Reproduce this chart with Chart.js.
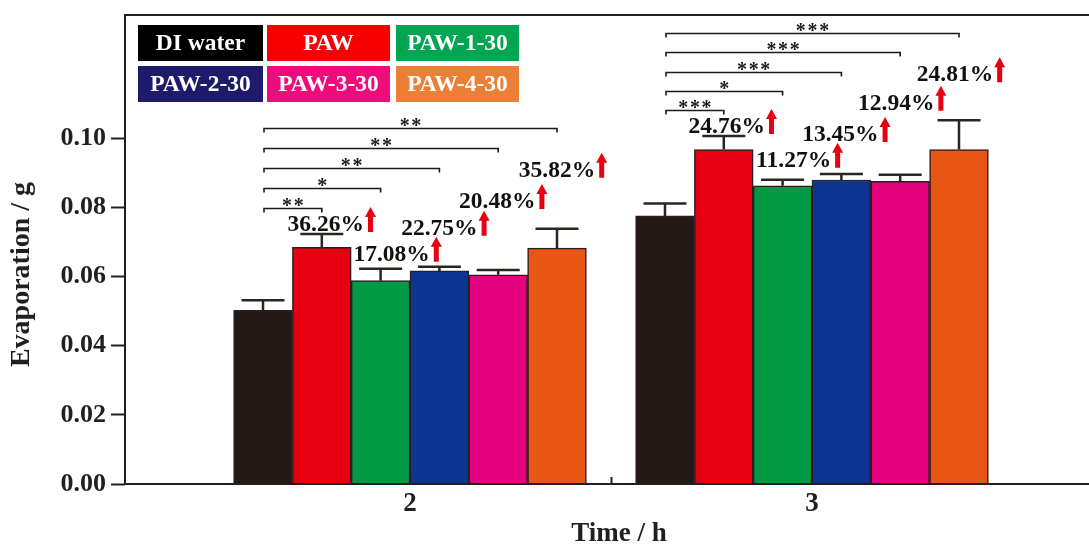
<!DOCTYPE html>
<html>
<head>
<meta charset="utf-8">
<script src="https://cdn.jsdelivr.net/npm/chart.js@4.4.1/dist/chart.umd.min.js"></script>
<style>
  html, body { margin: 0; padding: 0; background: #ffffff; overflow: hidden; }
  canvas { display: block; }
</style>
</head>
<body>
<canvas id="evap" width="1113" height="545"></canvas>
<script>
// Evaporated mass (g) after 2 h and 3 h for each water sample
const timeHours = [2, 3];
const seriesNames = ['DI water', 'PAW', 'PAW-1-30', 'PAW-2-30', 'PAW-3-30', 'PAW-4-30'];
const diWater = [0.0502, 0.0775];
const paw     = [0.0684, 0.0967];
const paw1_30 = [0.0588, 0.0862];
const paw2_30 = [0.0616, 0.0879];
const paw3_30 = [0.0605, 0.0875];
const paw4_30 = [0.0682, 0.0967];
// standard deviations (upper error bars)
const errDiWater = [0.0029, 0.0036];
const errPaw     = [0.0039, 0.0039];
const errPaw1_30 = [0.0034, 0.0018];
const errPaw2_30 = [0.0012, 0.0017];
const errPaw3_30 = [0.0014, 0.0019];
const errPaw4_30 = [0.0056, 0.0085];
// increase relative to DI water
const increase2h = ['36.26%', '17.08%', '22.75%', '20.48%', '35.82%'];
const increase3h = ['24.76%', '11.27%', '13.45%', '12.94%', '24.81%'];
// significance versus DI water
const signif2h = ['**', '*', '**', '**', '**'];
const signif3h = ['***', '*', '***', '***', '***'];
// axis ticks and titles
const yTicks = [0, 0.02, 0.04, 0.06, 0.08, 0.10];
const xTicks = [2, 2.5, 3];
const xLabelTicks = [2, 3];
const xTitle = 'Time / h';
const yTitle = 'Evaporation / g';

const seriesValues = [diWater, paw, paw1_30, paw2_30, paw3_30, paw4_30];
const seriesErrors = [errDiWater, errPaw, errPaw1_30, errPaw2_30, errPaw3_30, errPaw4_30];
const increases = [increase2h, increase3h];
const signifs = [signif2h, signif3h];

const barColors    = ['#231815', '#e60012', '#009944', '#0c3492', '#e4007f', '#e95513'];
const legendColors = ['#000000', '#f80000', '#00a651', '#1e1a6c', '#ee0c7c', '#ec7e36'];
const INK = '#231f20';
const SERIF = "'Liberation Serif', 'Times New Roman', serif";

// label placement: lift of each percentage above its error cap (px) and sideways nudge
const pctLayout = {
  lift:  [[11, 16, 40, 70, 60], [11, 21, 41, 73, 47]],
  shift: [[4, 11, 0, -1, 0],    [3, 11, -1, -4, -4]]
};
// significance brackets: first bracket height (g) and spacing (px) per time group
const bracketLayout = { base: [0.0798, 0.1081], step: [20, 19.3] };

const frameAndTicks = {
  id: 'frameAndTicks',
  beforeDatasetsDraw(chart) {
    const { ctx, scales: { x } } = chart;
    const a = chart.chartArea;
    ctx.save();
    ctx.strokeStyle = INK;
    ctx.lineWidth = 2;
    xTicks.forEach(v => {
      const px = Math.round(x.getPixelForValue(v)) + 0.5;
      ctx.beginPath();
      ctx.moveTo(px, a.bottom);
      ctx.lineTo(px, a.bottom - 7);
      ctx.stroke();
    });
    ctx.restore();
  },
  afterDraw(chart) {
    const { ctx } = chart;
    const a = chart.chartArea;
    ctx.save();
    ctx.strokeStyle = INK;
    ctx.lineWidth = 2;
    ctx.strokeRect(a.left, a.top, a.right - a.left, a.bottom - a.top);
    // vertical axis title
    ctx.translate(22, (a.top + a.bottom) / 2 + 25);
    ctx.rotate(-Math.PI / 2);
    ctx.font = 'bold 28px ' + SERIF;
    ctx.fillStyle = INK;
    ctx.textAlign = 'center';
    ctx.textBaseline = 'middle';
    ctx.fillText(yTitle, 0, 0);
    ctx.restore();
  }
};

const errorBars = {
  id: 'errorBars',
  afterDatasetsDraw(chart) {
    const { ctx, scales: { y } } = chart;
    ctx.save();
    ctx.strokeStyle = '#2b2420';
    ctx.lineWidth = 2.5;
    chart.data.datasets.forEach((ds, i) => {
      chart.getDatasetMeta(i).data.forEach((bar, j) => {
        const top = y.getPixelForValue(seriesValues[i][j] + seriesErrors[i][j]);
        ctx.beginPath();
        ctx.moveTo(bar.x, bar.y);
        ctx.lineTo(bar.x, top);
        ctx.moveTo(bar.x - 21.5, top);
        ctx.lineTo(bar.x + 21.5, top);
        ctx.stroke();
      });
    });
    ctx.restore();
  }
};

function drawUpArrow(ctx, x, bottom) {
  const h = 25, shaft = 5, head = 11, headH = 10;
  ctx.beginPath();
  ctx.moveTo(x + head / 2, bottom - h);
  ctx.lineTo(x + head, bottom - h + headH);
  ctx.lineTo(x + head / 2 + shaft / 2, bottom - h + headH);
  ctx.lineTo(x + head / 2 + shaft / 2, bottom);
  ctx.lineTo(x + head / 2 - shaft / 2, bottom);
  ctx.lineTo(x + head / 2 - shaft / 2, bottom - h + headH);
  ctx.lineTo(x, bottom - h + headH);
  ctx.closePath();
  ctx.fill();
}

const annotations = {
  id: 'annotations',
  afterDatasetsDraw(chart) {
    const { ctx, scales: { y } } = chart;
    ctx.save();
    // percentage increase labels with red arrows
    ctx.font = 'bold 23.5px ' + SERIF;
    ctx.textAlign = 'left';
    ctx.textBaseline = 'alphabetic';
    timeHours.forEach((t, g) => {
      for (let k = 1; k < seriesNames.length; k++) {
        const bar = chart.getDatasetMeta(k).data[g];
        const cap = y.getPixelForValue(seriesValues[k][g] + seriesErrors[k][g]);
        const cy = cap - pctLayout.lift[g][k - 1];
        const text = increases[g][k - 1];
        const w = ctx.measureText(text).width;
        const x0 = bar.x + pctLayout.shift[g][k - 1] - w / 2;
        const base = cy + 8;
        ctx.fillStyle = '#111111';
        ctx.fillText(text, x0, base);
        ctx.fillStyle = '#e60012';
        drawUpArrow(ctx, x0 + w + 1, base + 1);
      }
    });
    // significance brackets
    ctx.strokeStyle = '#1a1a1a';
    ctx.fillStyle = '#1a1a1a';
    ctx.lineWidth = 1.6;
    ctx.font = 'bold 20px ' + SERIF;
    ctx.textAlign = 'center';
    timeHours.forEach((t, g) => {
      const x0 = chart.getDatasetMeta(0).data[g].x + 1;
      const y0 = y.getPixelForValue(bracketLayout.base[g]);
      signifs[g].forEach((s, k) => {
        const x1 = chart.getDatasetMeta(k + 1).data[g].x;
        const ly = Math.round(y0 - k * bracketLayout.step[g]) + 0.5;
        ctx.beginPath();
        ctx.moveTo(x0, ly + 4);
        ctx.lineTo(x0, ly);
        ctx.lineTo(x1, ly);
        ctx.lineTo(x1, ly + 4);
        ctx.stroke();
        ctx.fillText(s.split('').join('\u200A'), (x0 + x1) / 2, ly + 3);
      });
    });
    ctx.restore();
  }
};

const boxLegend = {
  id: 'boxLegend',
  afterDraw(chart) {
    const { ctx } = chart;
    const a = chart.chartArea;
    const colX = [13, 142, 271], colW = [125, 123, 123];
    const rowY = [10, 51], rowH = 36;
    ctx.save();
    ctx.font = 'bold 23.5px ' + SERIF;
    ctx.textAlign = 'center';
    ctx.textBaseline = 'middle';
    seriesNames.forEach((name, i) => {
      const c = i % 3, r = Math.floor(i / 3);
      const bx = a.left + colX[c], by = a.top + rowY[r];
      ctx.fillStyle = legendColors[i];
      ctx.fillRect(bx, by, colW[c], rowH);
      ctx.fillStyle = '#ffffff';
      ctx.fillText(name, bx + colW[c] / 2, by + rowH / 2 + 1);
    });
    ctx.restore();
  }
};

new Chart(document.getElementById('evap'), {
  type: 'bar',
  data: {
    datasets: seriesNames.map((name, i) => ({
      label: name,
      data: timeHours.map((t, j) => ({ x: t, y: seriesValues[i][j] })),
      backgroundColor: barColors[i],
      borderColor: '#2a1e1e',
      borderWidth: 1.5,
      barThickness: 58.8
    }))
  },
  options: {
    responsive: false,
    animation: false,
    layout: { padding: { top: 15, left: 0, right: 0, bottom: 0 } },
    plugins: { legend: { display: false }, tooltip: { enabled: false } },
    scales: {
      x: {
        type: 'linear',
        offset: false,
        min: 1.291,
        max: 3.7488,
        afterBuildTicks(scale) { scale.ticks = xTicks.map(v => ({ value: v })); },
        afterFit(scale) { scale.height = 61; scale.paddingLeft = 0; scale.paddingRight = 0; },
        grid: { display: false, drawTicks: false },
        border: { display: false },
        ticks: {
          padding: 4,
          color: INK,
          font: { family: SERIF, size: 27, weight: 'bold' },
          callback: v => (xLabelTicks.includes(v) ? String(v) : '')
        },
        title: {
          display: true,
          text: xTitle,
          color: INK,
          padding: { top: 0, bottom: -3 },
          font: { family: SERIF, size: 27, weight: 'bold', lineHeight: 1.0 }
        }
      },
      y: {
        min: 0,
        max: 0.1356,
        afterBuildTicks(scale) { scale.ticks = yTicks.map(v => ({ value: v })); },
        afterFit(scale) { scale.width = 125; scale.paddingTop = 0; scale.paddingBottom = 0; },
        grid: { drawOnChartArea: false, drawTicks: true, tickLength: 14, tickWidth: 2, tickColor: INK },
        border: { display: false },
        ticks: {
          padding: 5,
          color: INK,
          font: { family: SERIF, size: 26, weight: 'bold' },
          callback: v => v.toFixed(2)
        },
        title: { display: false }
      }
    }
  },
  plugins: [frameAndTicks, errorBars, annotations, boxLegend]
});
</script>
</body>
</html>
